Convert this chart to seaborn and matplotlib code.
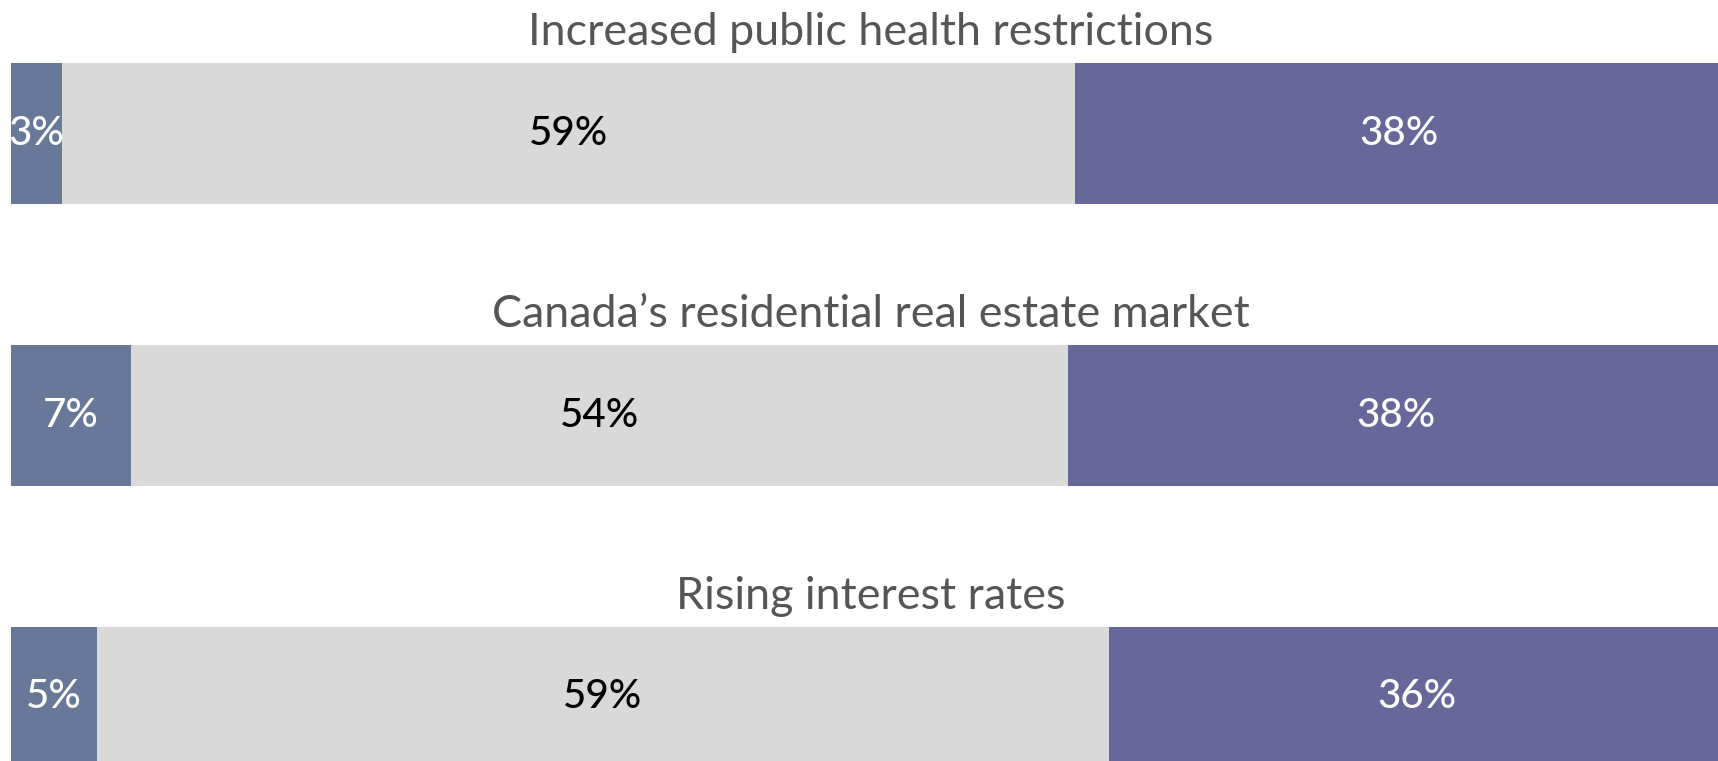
import numpy as np
import pandas as pd
import matplotlib
matplotlib.use("Agg")
import matplotlib.pyplot as plt
import seaborn as sns

# ── Data ─────────────────────────────────────────────────────────────────────
CATEGORIES = ["Increased public health restrictions",
              "Canada\u2019s residential real estate market",
              "Rising interest rates"]
LEFT_VALS   = [3.0, 7.0, 5.0]
MID_VALS    = [59.1, 54.7, 59.1]
RIGHT_VALS  = [37.9, 38.3, 35.9]
LEFT_LABELS  = ["3%", "7%", "5%"]
MID_LABELS   = ["59%", "54%", "59%"]
RIGHT_LABELS = ["38%", "38%", "36%"]

# ── Style ────────────────────────────────────────────────────────────────────
COLORS = {"left": "#677898", "mid": "#d9d9d9", "right": "#676799"}
TITLE_COLOR = "#555555"

sns.set_theme(style="white")
plt.rcParams["font.family"] = ["Lato", "DejaVu Sans"]

df = pd.DataFrame({"cat": CATEGORIES, "left": LEFT_VALS,
                   "mid": MID_VALS, "right": RIGHT_VALS})
df["c1"] = df["left"]
df["c2"] = df["left"] + df["mid"]
df["c3"] = df["c2"] + df["right"]

fig = plt.figure(figsize=(17.18, 7.61), dpi=100)
ax = fig.add_axes([0, 0, 1, 1])

# stacked bars: draw totals first, then overlay shorter cumulative sums
for col, key in [("c3", "right"), ("c2", "mid"), ("c1", "left")]:
    sns.barplot(data=df, x=col, y="cat", order=CATEGORIES, orient="h",
                width=0.5, color=COLORS[key], saturation=1, linewidth=0, ax=ax)

ax.set_xlim(-0.642, 99.65)
ax.set_ylim(2.227, -0.472)
ax.axis("off")

for i, row in df.iterrows():
    ax.text(50.2, i - 0.312, row["cat"], ha="center", va="baseline",
            fontsize=32.3, color=TITLE_COLOR)
    ax.text(row["c1"] / 2, i, LEFT_LABELS[i], ha="center", va="center",
            fontsize=29, color="white", weight="medium")
    ax.text((row["c1"] + row["c2"]) / 2, i, MID_LABELS[i], ha="center",
            va="center", fontsize=29, color="black", weight="medium")
    ax.text((row["c2"] + row["c3"]) / 2, i, RIGHT_LABELS[i], ha="center",
            va="center", fontsize=29, color="white", weight="medium")

fig.savefig("out.png", dpi=100, facecolor="white")
